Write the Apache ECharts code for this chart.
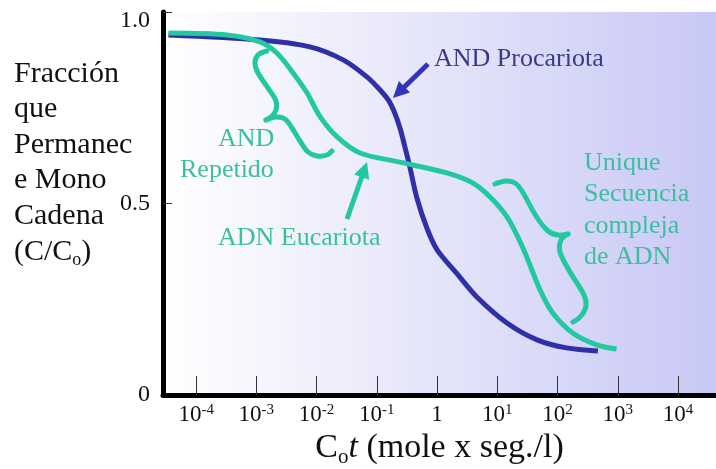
<!DOCTYPE html>
<html>
<head>
<meta charset="utf-8">
<script src="https://cdn.jsdelivr.net/npm/echarts@6/dist/echarts.min.js"></script>
<style>
  html, body { margin: 0; padding: 0; background: #fff; }
  #chart { width: 716px; height: 469px; }
</style>
</head>
<body>
<div id="chart"></div>
<script>
// log10(Cot) y fracción que permanece monocadena (C/Co)
var procLogCot = [-4.46, -2.94, -2.11, -1.56, -1.16, -0.95, -0.80, -0.70, -0.61, -0.53, -0.45, -0.34, -0.17, 0.00, 0.33, 0.66, 1.16, 1.66, 2.15, 2.67];
var procFrac   = [0.940, 0.927, 0.909, 0.875, 0.830, 0.797, 0.768, 0.735, 0.694, 0.645, 0.594, 0.517, 0.436, 0.379, 0.317, 0.256, 0.188, 0.144, 0.123, 0.115];

var eucLogCot = [-4.46, -3.49, -2.94, -2.66, -2.39, -2.16, -1.94, -1.66, -1.28, -0.62, 0.16, 0.59, 0.88, 1.16, 1.42, 1.71, 1.92, 2.25, 2.65, 2.98];
var eucFrac   = [0.945, 0.940, 0.922, 0.893, 0.841, 0.789, 0.726, 0.674, 0.632, 0.608, 0.580, 0.554, 0.517, 0.465, 0.386, 0.274, 0.214, 0.162, 0.131, 0.120];

var xTicks = [-4, -3, -2, -1, 0, 1, 2, 3, 4];
var yTicks = [0, 0.5, 1];

var BLUE = '#3030a6';
var BLUE_ARROW = '#3434b8';
var TEAL = '#22c89f';
var TEAL_TXT = '#3bbf9f';
var SERIF = '"Liberation Serif", "DejaVu Serif", serif';

function zip(a, b) {
  return a.map(function (v, i) { return [v, b[i]]; });
}

function arrow(x1, y1, x2, y2, color) {
  var dx = x2 - x1, dy = y2 - y1;
  var len = Math.sqrt(dx * dx + dy * dy);
  var ux = dx / len, uy = dy / len;
  var hl = 16, hw = 8;
  var bx = x2 - ux * hl, by = y2 - uy * hl;
  return [
    { type: 'line', silent: true,
      shape: { x1: x1, y1: y1, x2: bx + ux * 2, y2: by + uy * 2 },
      style: { stroke: color, lineWidth: 5 } },
    { type: 'polygon', silent: true,
      shape: { points: [[x2, y2], [bx - uy * hw, by + ux * hw], [bx + uy * hw, by - ux * hw]] },
      style: { fill: color } }
  ];
}

function brace(points) {
  return { type: 'polyline', silent: true,
    shape: { points: points, smooth: 0.35 },
    style: { stroke: TEAL, lineWidth: 5, fill: null, lineCap: 'round' } };
}

var yTitle = ['Fracción', 'que', 'Permanec', 'e Mono', 'Cadena'];
var graphics = [];
yTitle.forEach(function (t, i) {
  graphics.push({ type: 'text', left: 14, top: 59 + i * 35.5,
    style: { text: t, font: '30px ' + SERIF, fill: '#111' } });
});
graphics.push({ type: 'text', left: 14, top: 237,
  style: { text: '(C/C{s|o})', font: '30px ' + SERIF, fill: '#111',
    rich: { s: { fontSize: 18, fontFamily: SERIF, verticalAlign: 'bottom', padding: [16, 0, 0, 0] } } } });

graphics.push({ type: 'text', left: 434, top: 46,
  style: { text: 'AND Procariota', font: '26px ' + SERIF, fill: '#3a3a8c' } });
graphics.push({ type: 'text', left: 218, top: 126,
  style: { text: 'AND', font: '26px ' + SERIF, fill: TEAL_TXT } });
graphics.push({ type: 'text', left: 180, top: 157,
  style: { text: 'Repetido', font: '26px ' + SERIF, fill: TEAL_TXT } });
graphics.push({ type: 'text', left: 218, top: 225,
  style: { text: 'ADN Eucariota', font: '26px ' + SERIF, fill: TEAL_TXT } });
['Unique', 'Secuencia', 'compleja', 'de ADN'].forEach(function (t, i) {
  graphics.push({ type: 'text', left: 584, top: 150 + i * 31.5,
    style: { text: t, font: '26px ' + SERIF, fill: TEAL_TXT } });
});

graphics = graphics.concat(arrow(428, 64, 393, 98, BLUE_ARROW));
graphics = graphics.concat(arrow(347, 219, 367, 162, TEAL));

graphics.push(brace([[267, 51], [258, 55], [255, 63], [258, 73], [268, 88], [276, 101], [276, 110], [272, 116], [266, 120]]));
graphics.push(brace([[266, 120], [276, 117], [285, 119], [292, 128], [300, 141], [308, 152], [317, 156], [327, 155], [332, 151]]));
graphics.push(brace([[495, 184], [506, 181], [515, 183], [522, 191], [536, 216], [548, 231], [558, 235], [568, 234]]));
graphics.push(brace([[568, 234], [561, 240], [560, 252], [570, 272], [584, 295], [586, 306], [581, 316], [573, 322]]));

var chart = echarts.init(document.getElementById('chart'));
chart.setOption({
  animation: false,
  backgroundColor: '#ffffff',
  grid: {
    left: 163, right: 0, top: 12, bottom: 74,
    outerBoundsMode: 'none', containLabel: false,
    show: true, borderWidth: 0,
    backgroundColor: new echarts.graphic.LinearGradient(0, 0, 1, 0, [
      { offset: 0, color: '#ffffff' },
      { offset: 0.45, color: '#e7e7fa' },
      { offset: 1, color: '#c8c8f6' }
    ])
  },
  xAxis: {
    type: 'value', min: -4.55, max: 4.63,
    name: '{c|C}{o|o}{t|t}{c| (mole x seg./l)}',
    nameLocation: 'middle', nameGap: 33,
    nameTextStyle: {
      rich: {
        c: { fontSize: 34, fontFamily: SERIF, color: '#111' },
        t: { fontSize: 34, fontFamily: SERIF, fontStyle: 'italic', color: '#111' },
        o: { fontSize: 21, fontFamily: SERIF, color: '#111', verticalAlign: 'bottom', padding: [18, 0, 0, 0] }
      }
    },
    axisLine: { show: true, onZero: false, lineStyle: { color: '#000', width: 5 } },
    axisTick: { show: true, inside: true, length: 19, customValues: xTicks, lineStyle: { color: '#333', width: 1 } },
    axisLabel: {
      customValues: xTicks, margin: 8,
      formatter: function (v) {
        if (v === 0) return '{b|1}';
        return '{b|10}{e|' + v + '}';
      },
      rich: {
        b: { fontSize: 23, fontFamily: SERIF, color: '#111' },
        e: { fontSize: 15, fontFamily: SERIF, color: '#111', verticalAlign: 'top', padding: [0, 0, 9, 0] }
      }
    },
    splitLine: { show: false }
  },
  yAxis: {
    type: 'value', min: 0, max: 1,
    axisLine: { show: true, onZero: false, lineStyle: { color: '#000', width: 5 } },
    axisTick: { show: true, inside: true, length: 9, customValues: [0.5, 1], lineStyle: { color: '#333', width: 1 } },
    axisLabel: {
      customValues: yTicks, margin: 13,
      formatter: function (v) {
        if (v === 1) return '{top|1.0}';
        return '{n|' + (v === 0 ? '0' : v.toFixed(1)) + '}';
      },
      rich: {
        n: { fontSize: 24, fontFamily: SERIF, color: '#111' },
        top: { fontSize: 24, fontFamily: SERIF, color: '#111', padding: [18, 0, 0, 0] }
      }
    },
    splitLine: { show: false }
  },
  series: [
    {
      name: 'AND Procariota', type: 'line', smooth: 0.3, showSymbol: false,
      data: zip(procLogCot, procFrac),
      lineStyle: { color: BLUE, width: 5 }, z: 3
    },
    {
      name: 'ADN Eucariota', type: 'line', smooth: 0.3, showSymbol: false,
      data: zip(eucLogCot, eucFrac),
      lineStyle: { color: TEAL, width: 5 }, z: 4
    }
  ],
  graphic: graphics
});
</script>
</body>
</html>
